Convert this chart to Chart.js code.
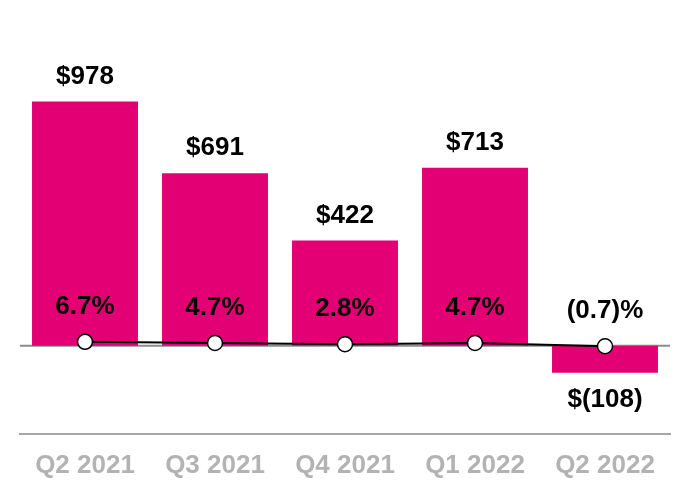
<!DOCTYPE html>
<html>
<head>
<meta charset="utf-8">
<script src="https://cdn.jsdelivr.net/npm/chart.js@4"></script>
<style>
  html, body { margin: 0; padding: 0; background: #fff; }
  #wrap { width: 690px; height: 500px; }
</style>
</head>
<body>
<div id="wrap"><canvas id="chart" width="690" height="500"></canvas></div>
<script>
// --- Data ---
const quarters = ["Q2 2021", "Q3 2021", "Q4 2021", "Q1 2022", "Q2 2022"];
const amounts = [978, 691, 422, 713, -108];      // $ millions
const margins = [6.7, 4.7, 2.8, 4.7, -0.7];      // %

const MAGENTA = "#e20074";
const FONT = "'Liberation Sans', Arial, Helvetica, sans-serif";

function fmtDollar(v) {
  return v < 0 ? "$(" + Math.abs(v) + ")" : "$" + v;
}
function fmtPct(v) {
  return v < 0 ? "(" + Math.abs(v).toFixed(1) + ")%" : v.toFixed(1) + "%";
}

// --- zero line under the bars ---
const zeroLine = {
  id: "zeroLine",
  beforeDatasetsDraw(chart) {
    const { ctx, chartArea } = chart;
    const y = chart.scales.y.getPixelForValue(0);
    ctx.save();
    ctx.strokeStyle = "#8c8c8c";
    ctx.lineWidth = 2;
    ctx.beginPath();
    ctx.moveTo(chartArea.left, y);
    ctx.lineTo(chartArea.right, y);
    ctx.stroke();
    ctx.restore();
  },
};

// --- value labels ---
const valueLabels = {
  id: "valueLabels",
  afterDatasetsDraw(chart) {
    const ctx = chart.ctx;
    ctx.save();
    ctx.font = "bold 26px " + FONT;
    ctx.fillStyle = "#000";
    ctx.textAlign = "center";
    ctx.textBaseline = "middle";
    chart.getDatasetMeta(0).data.forEach((bar, i) => {
      const v = amounts[i];
      const y = v >= 0 ? bar.y - 25 : bar.y + 27;
      ctx.fillText(fmtDollar(v), bar.x, y);
    });
    chart.getDatasetMeta(1).data.forEach((pt, i) => {
      ctx.fillText(fmtPct(margins[i]), pt.x, pt.y - 35);
    });
    ctx.restore();
  },
};

new Chart(document.getElementById("chart"), {
  type: "bar",
  data: {
    labels: quarters,
    datasets: [
      {
        type: "bar",
        data: amounts,
        backgroundColor: MAGENTA,
        borderWidth: 0,
        categoryPercentage: 1,
        barPercentage: 0.815,
        yAxisID: "y",
        order: 2,
      },
      {
        type: "line",
        data: margins,
        borderColor: "#000",
        borderWidth: 2,
        tension: 0,
        pointRadius: 7.5,
        pointBackgroundColor: "#fff",
        pointBorderColor: "#000",
        pointBorderWidth: 1.5,
        yAxisID: "y1",
        order: 1,
        clip: false,
      },
    ],
  },
  options: {
    responsive: false,
    animation: false,
    layout: { padding: { left: 20, right: 20, top: 21, bottom: 11 } },
    plugins: {
      legend: { display: false },
      tooltip: { enabled: false },
    },
    scales: {
      x: {
        grid: { display: false },
        border: { display: true, color: "#a6a6a6", width: 2 },
        ticks: {
          color: "#b3b3b3",
          padding: 8,
          font: { family: FONT, size: 26, weight: "bold" },
        },
      },
      y: { display: false, min: -352, max: 1300 },
      y1: { display: false, min: -146.7, max: 541.7 },
    },
  },
  plugins: [zeroLine, valueLabels],
});
</script>
</body>
</html>
